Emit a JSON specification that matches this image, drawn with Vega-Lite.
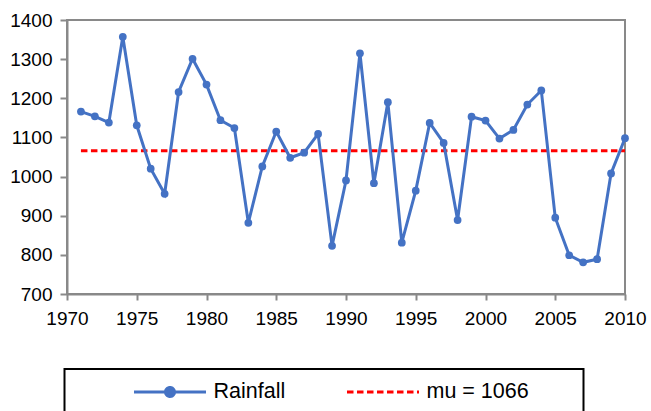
{
  "$schema": "https://vega.github.io/schema/vega-lite/v6.json",
  "width": 558,
  "height": 274,
  "autosize": {"type": "none"},
  "padding": {"left": 67, "top": 20, "right": 26, "bottom": 117},
  "background": "white",
  "config": {
    "font": "Liberation Sans",
    "view": {"stroke": "#898989", "strokeWidth": 2},
    "axis": {
      "grid": false,
      "domainColor": "#898989",
      "domainWidth": 2,
      "tickColor": "#898989",
      "tickWidth": 2,
      "labelFontSize": 19,
      "labelColor": "black",
      "labelFont": "Liberation Sans",
      "labelFlush": false
    }
  },
  "data": {
    "values": [
      {"year": 1971, "value": 1166, "series": "Rainfall"},
      {"year": 1972, "value": 1154, "series": "Rainfall"},
      {"year": 1973, "value": 1138, "series": "Rainfall"},
      {"year": 1974, "value": 1357, "series": "Rainfall"},
      {"year": 1975, "value": 1131, "series": "Rainfall"},
      {"year": 1976, "value": 1020, "series": "Rainfall"},
      {"year": 1977, "value": 956, "series": "Rainfall"},
      {"year": 1978, "value": 1216, "series": "Rainfall"},
      {"year": 1979, "value": 1301, "series": "Rainfall"},
      {"year": 1980, "value": 1235, "series": "Rainfall"},
      {"year": 1981, "value": 1144, "series": "Rainfall"},
      {"year": 1982, "value": 1124, "series": "Rainfall"},
      {"year": 1983, "value": 882, "series": "Rainfall"},
      {"year": 1984, "value": 1026, "series": "Rainfall"},
      {"year": 1985, "value": 1115, "series": "Rainfall"},
      {"year": 1986, "value": 1048, "series": "Rainfall"},
      {"year": 1987, "value": 1061, "series": "Rainfall"},
      {"year": 1988, "value": 1109, "series": "Rainfall"},
      {"year": 1989, "value": 823, "series": "Rainfall"},
      {"year": 1990, "value": 990, "series": "Rainfall"},
      {"year": 1991, "value": 1315, "series": "Rainfall"},
      {"year": 1992, "value": 983, "series": "Rainfall"},
      {"year": 1993, "value": 1190, "series": "Rainfall"},
      {"year": 1994, "value": 831, "series": "Rainfall"},
      {"year": 1995, "value": 964, "series": "Rainfall"},
      {"year": 1996, "value": 1137, "series": "Rainfall"},
      {"year": 1997, "value": 1086, "series": "Rainfall"},
      {"year": 1998, "value": 889, "series": "Rainfall"},
      {"year": 1999, "value": 1153, "series": "Rainfall"},
      {"year": 2000, "value": 1143, "series": "Rainfall"},
      {"year": 2001, "value": 1097, "series": "Rainfall"},
      {"year": 2002, "value": 1119, "series": "Rainfall"},
      {"year": 2003, "value": 1184, "series": "Rainfall"},
      {"year": 2004, "value": 1220, "series": "Rainfall"},
      {"year": 2005, "value": 895, "series": "Rainfall"},
      {"year": 2006, "value": 799, "series": "Rainfall"},
      {"year": 2007, "value": 781, "series": "Rainfall"},
      {"year": 2008, "value": 789, "series": "Rainfall"},
      {"year": 2009, "value": 1008, "series": "Rainfall"},
      {"year": 2010, "value": 1098, "series": "Rainfall"},
      {"year": 1971, "value": 1066, "series": "mu = 1066"},
      {"year": 2010, "value": 1066, "series": "mu = 1066"}
    ]
  },
  "encoding": {
    "x": {
      "field": "year",
      "type": "quantitative",
      "scale": {"domain": [1970, 2010], "nice": false, "zero": false},
      "axis": {"title": null, "format": "d", "values": [1970, 1975, 1980, 1985, 1990, 1995, 2000, 2005, 2010], "tickSize": 6, "labelPadding": 9}
    },
    "y": {
      "field": "value",
      "type": "quantitative",
      "scale": {"domain": [700, 1400], "nice": false, "zero": false},
      "axis": {"title": null, "format": "d", "values": [700, 800, 900, 1000, 1100, 1200, 1300, 1400], "tickSize": 7, "labelPadding": 8}
    }
  },
  "layer": [
    {
      "transform": [{"filter": "datum.series === 'mu = 1066'"}],
      "mark": {"type": "line", "strokeWidth": 3, "strokeDash": [6.5, 3.5]},
      "encoding": {
        "color": {
          "field": "series",
          "type": "nominal",
          "scale": {"domain": ["Rainfall", "mu = 1066"], "range": ["#4472C4", "#FF0000"]},
          "legend": {
            "title": "\u00a0",
            "titleOrient": "left",
            "titlePadding": 56,
            "titleFontSize": 21,
            "orient": "none",
            "legendX": -2.5,
            "legendY": 349,
            "direction": "horizontal",
            "strokeColor": "black",
            "padding": 12,
            "symbolType": "stroke",
            "symbolSize": 5184,
            "symbolStrokeWidth": 3,
            "labelFontSize": 21.5,
            "labelColor": "black",
            "labelOffset": 6,
            "columnPadding": 60,
            "clipHeight": 22,
            "labelExpr": "datum.value === 'Rainfall' ? datum.label : datum.label + '\u00a0\u00a0\u00a0\u00a0\u00a0\u00a0\u00a0\u200b'",
            "encode": {
              "legend": {"update": {"strokeWidth": {"value": 2}}},
              "symbols": {
                "update": {
                  "shape": {"signal": "datum.value === 'Rainfall' ? 'M-1,0H1M0.125,0A0.125,0.125,0,1,1,-0.125,0A0.125,0.125,0,1,1,0.125,0Z' : 'stroke'"},
                  "fill": {"signal": "datum.value === 'Rainfall' ? '#4472C4' : 'transparent'"},
                  "strokeDash": {"signal": "datum.value === 'Rainfall' ? [1, 0] : [6.5, 3.5]"}
                }
              }
            }
          }
        }
      }
    },
    {
      "transform": [{"filter": "datum.series === 'Rainfall'"}],
      "mark": {"type": "line", "strokeWidth": 3},
      "encoding": {
        "color": {"field": "series", "type": "nominal"}
      }
    },
    {
      "transform": [{"filter": "datum.series === 'Rainfall'"}],
      "mark": {"type": "point", "filled": true, "opacity": 1, "size": 60, "color": "#4472C4"}
    }
  ]
}
